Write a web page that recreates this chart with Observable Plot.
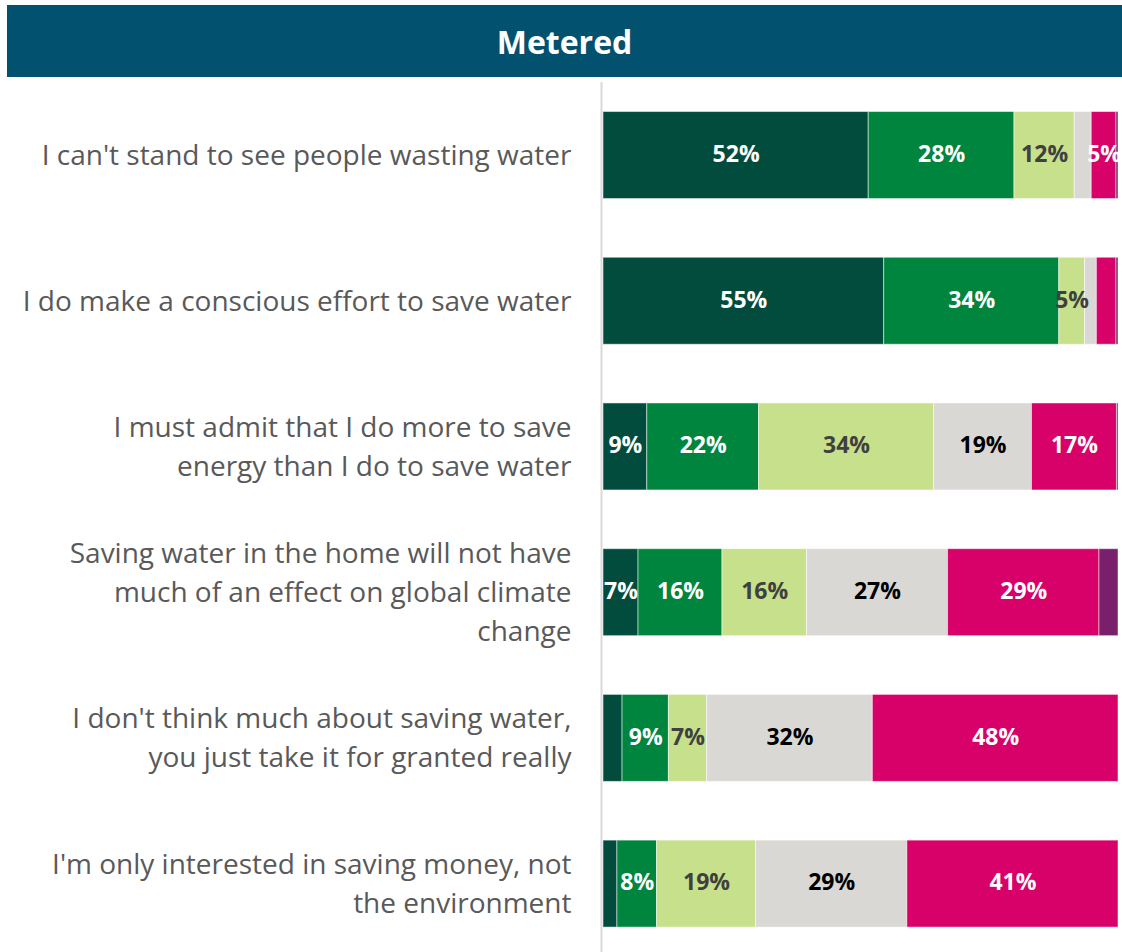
<!DOCTYPE html>
<html>
<head>
<meta charset="utf-8">
<script src="https://cdn.jsdelivr.net/npm/d3@7"></script>
<script src="https://cdn.jsdelivr.net/npm/@observablehq/plot@0.6"></script>
<style>
  html, body { margin: 0; padding: 0; background: #ffffff; }
  body { width: 1122px; height: 952px; overflow: hidden; font-family: "Open Sans", sans-serif; }
  #header {
    margin: 5px 0 0 7px; width: 1115px; height: 72px; background: #02526F;
    color: #ffffff; font-weight: bold; font-size: 32px; display: flex;
    align-items: center; justify-content: center;
  }
  #chart svg { display: block; }
</style>
</head>
<body>
<div id="header">Metered</div>
<div id="chart"></div>
<script>
const statements = [
  "I can't stand to see people wasting water",
  "I do make a conscious effort to save water",
  "I must admit that I do more to save energy than I do to save water",
  "Saving water in the home will not have much of an effect on global climate change",
  "I don't think much about saving water, you just take it for granted really",
  "I'm only interested in saving money, not the environment"
];
const statementLines = [
  "I can't stand to see people wasting water",
  "I do make a conscious effort to save water",
  "I must admit that I do more to save\nenergy than I do to save water",
  "Saving water in the home will not have\nmuch of an effect on global climate\nchange",
  "I don't think much about saving water,\nyou just take it for granted really",
  "I'm only interested in saving money, not\nthe environment"
];
const responses = ["Agree strongly", "Agree slightly", "Neither agree nor disagree", "Disagree slightly", "Disagree strongly", "Don't know"];
const agreeStrongly    = [51.5, 54.5,  8.5,  6.8,  3.7,  2.7];
const agreeSlightly    = [28.3, 34.0, 21.7, 16.3,  9.0,  7.7];
const neither          = [11.7,  5.0, 34.0, 16.4,  7.4, 19.2];
const disagreeSlightly = [ 3.3,  2.3, 19.0, 27.4, 32.2, 29.4];
const disagreeStrongly = [ 4.8,  3.8, 16.5, 29.4, 47.7, 41.0];
const dontKnow         = [ 0.4,  0.4,  0.3,  3.7,  0.0,  0.0];

const fillColors = ["#024C3E", "#00853F", "#C6E08B", "#DAD8D4", "#D80069", "#7A1F6B"];
const labelColors = ["#ffffff", "#ffffff", "#404040", "#000000", "#ffffff", "#ffffff"];

const series = [agreeStrongly, agreeSlightly, neither, disagreeSlightly, disagreeStrongly, dontKnow];
const data = [];
statements.forEach((s, i) => {
  responses.forEach((r, j) => {
    data.push({statement: s, response: r, value: series[j][i], labelColor: labelColors[j]});
  });
});
const wrapped = Object.fromEntries(statements.map((s, i) => [s, statementLines[i]]));
const fmt = d => Math.round(d.value) + "%";
const distinctLabelColors = Array.from(new Set(labelColors));

const stackOpts = {x: "value", y: "statement", z: "response", order: responses};

const chart = Plot.plot({
  width: 1122,
  height: 875,
  marginLeft: 603,
  marginRight: 4,
  marginTop: 5,
  marginBottom: 0,
  style: {fontFamily: "'Open Sans', sans-serif", background: "transparent"},
  x: {domain: [0, 100], axis: null},
  y: {domain: statements, range: [5.17, 879.47], paddingInner: 0.403, paddingOuter: 0.2015, round: false, axis: null},
  color: {domain: responses, range: fillColors},
  marks: [
    Plot.barX(data, Plot.stackX({...stackOpts, fill: "response", stroke: "#ffffff", strokeWidth: 1, strokeOpacity: 0.5})),
    ...distinctLabelColors.map(c =>
      Plot.text(data, Plot.stackX({
        ...stackOpts,
        text: d => (d.labelColor === c && d.value >= 4.5) ? fmt(d) : "",
        fill: c,
        fontSize: 23,
        fontWeight: "bold",
        dy: -1
      }))
    ),
    Plot.text(statements, {
      x: 0, y: d => d, text: d => wrapped[d],
      textAnchor: "end", dx: -32, dy: -3, fontSize: 28, lineHeight: 1.39, fill: "#595959"
    }),
    Plot.ruleX([0], {dx: -2, stroke: "#D9D9D9", strokeWidth: 2})
  ]
});
document.getElementById("chart").appendChild(chart);
</script>
</body>
</html>
